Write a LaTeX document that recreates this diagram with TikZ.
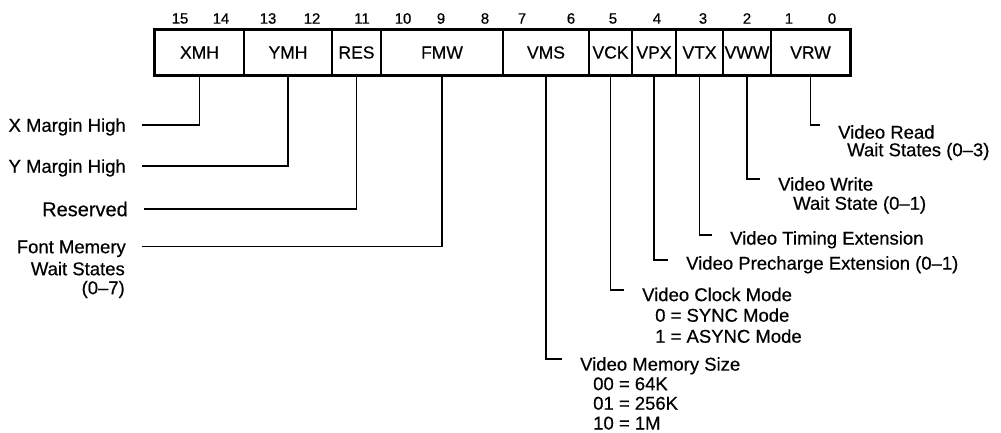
\documentclass[tikz,border=0pt]{standalone}
\usepackage{fontspec}
\setmainfont{Liberation Sans}
\newfontfamily\medfont[FakeBold=0.5]{Liberation Sans}
\begin{document}
\begin{tikzpicture}[x=1pt,y=-1pt,
  field/.style={draw, line width=1.6pt, minimum height=45pt, inner sep=0pt, font=\medfont\fontsize{17.5}{20}\selectfont},
  bitnum/.style={inner sep=0pt, font=\medfont\fontsize{15}{17}\selectfont},
  lab/.style={inner sep=0pt, font=\medfont\fontsize{18.5}{21}\selectfont, text height=16pt, text depth=2.6pt},
  rlab/.style={lab, text height=#1},
  conn/.style={line width=1.6pt},
  lconn/.style={conn, shorten >=16pt},
  rconn/.style={conn, shorten >=18pt},
]
\useasboundingbox (0,0) rectangle (1001,432);

% register fields
\node[field, minimum width=89pt] (xmh) at (199.5,52.5) {XMH};
\node[field, minimum width=88pt] (ymh) at (288,52.5) {YMH};
\node[field, minimum width=49pt] (res) at (356.5,52.5) {RES};
\node[field, minimum width=122pt] (fmw) at (442,52.5) {FMW};
\node[field, minimum width=86pt] (vms) at (546,52.5) {VMS};
\node[field, minimum width=43pt] (vck) at (610.5,52.5) {VCK};
\node[field, minimum width=44pt] (vpx) at (654,52.5) {VPX};
\node[field, minimum width=47pt] (vtx) at (699.5,52.5) {VTX};
\node[field, minimum width=48pt] (vww) at (747,52.5) {VWW};
\node[field, minimum width=79pt] (vrw) at (810.5,52.5) {VRW};
\draw[line width=3pt] (xmh.north west) rectangle (vrw.south east);

% bit numbers
\node[bitnum] (b15) at (180,18.5) {15};
\node[bitnum] (b14) at (221,18.5) {14};
\node[bitnum] (b13) at (268,18.5) {13};
\node[bitnum] (b12) at (312,18.5) {12};
\node[bitnum] (b11) at (362,18.5) {11};
\node[bitnum] (b10) at (403,18.5) {10};
\node[bitnum] (b9) at (441,18.5) {9};
\node[bitnum] (b8) at (485,18.5) {8};
\node[bitnum] (b7) at (522,18.5) {7};
\node[bitnum] (b6) at (571,18.5) {6};
\node[bitnum] (b5) at (613,18.5) {5};
\node[bitnum] (b4) at (657,18.5) {4};
\node[bitnum] (b3) at (703,18.5) {3};
\node[bitnum] (b2) at (747,18.5) {2};
\node[bitnum] (b1) at (789,18.5) {1};
\node[bitnum] (b0) at (832,18.5) {0};

% left labels
\node[lab, anchor=east] (lxmh) at (126,125) {X Margin High};
\node[lab, anchor=east] (lymh) at (126,166) {Y Margin High};
\node[lab, anchor=east, font=\medfont\fontsize{20}{22}\selectfont, text height=17.2pt, text depth=2.8pt] (lres) at (128,209) {Reserved};
\node[lab, anchor=east] (lfmw) at (126,246.5) {Font Memery};
\node[lab, anchor=east] (lfmw2) at (125,268.5) {Wait States};
\node[lab, anchor=east] (lfmw3) at (125,287.5) {(0–7)};

\draw[lconn] (xmh.south) |- (lxmh.east);
\draw[lconn] (ymh.south) |- (lymh.east);
\draw[lconn] (res.south) |- (lres.east);
\draw[lconn] (fmw.south) |- (lfmw.east);

% right labels
\node[rlab=29.8pt, anchor=west] (lvrw) at (838,125) {Video Read};
\node[lab, anchor=west] (lvrw2) at (847,149.5) {Wait States (0–3)};
\node[rlab=25.8pt, anchor=west] (lvww) at (778,179) {Video Write};
\node[lab, anchor=west] (lvww2) at (793,203) {Wait State (0–1)};
\node[rlab=21.8pt, anchor=west] (lvtx) at (730,235) {Video Timing Extension};
\node[rlab=21.8pt, anchor=west] (lvpx) at (686,260) {Video Precharge Extension (0–1)};
\node[rlab=24.8pt, anchor=west] (lvck) at (642,290) {Video Clock Mode};
\node[lab, anchor=west] (lvck2) at (655,315) {0 = SYNC Mode};
\node[lab, anchor=west] (lvck3) at (655,336) {1 = ASYNC Mode};
\node[rlab=25.8pt, anchor=west] (lvms) at (580,359) {Video Memory Size};
\node[lab, anchor=west] (lvms2) at (593,383.5) {00 = 64K};
\node[lab, anchor=west] (lvms3) at (593,403) {01 = 256K};
\node[lab, anchor=west, text depth=1pt] (lvms4) at (593,422) {10 = 1M};

\draw[rconn] (vrw.south) |- (lvrw.west);
\draw[rconn] (vww.south) |- (lvww.west);
\draw[rconn] (vtx.south) |- (lvtx.west);
\draw[rconn] (vpx.south) |- (lvpx.west);
\draw[rconn] (vck.south) |- (lvck.west);
\draw[rconn] (vms.south) |- (lvms.west);
\end{tikzpicture}
\end{document}
